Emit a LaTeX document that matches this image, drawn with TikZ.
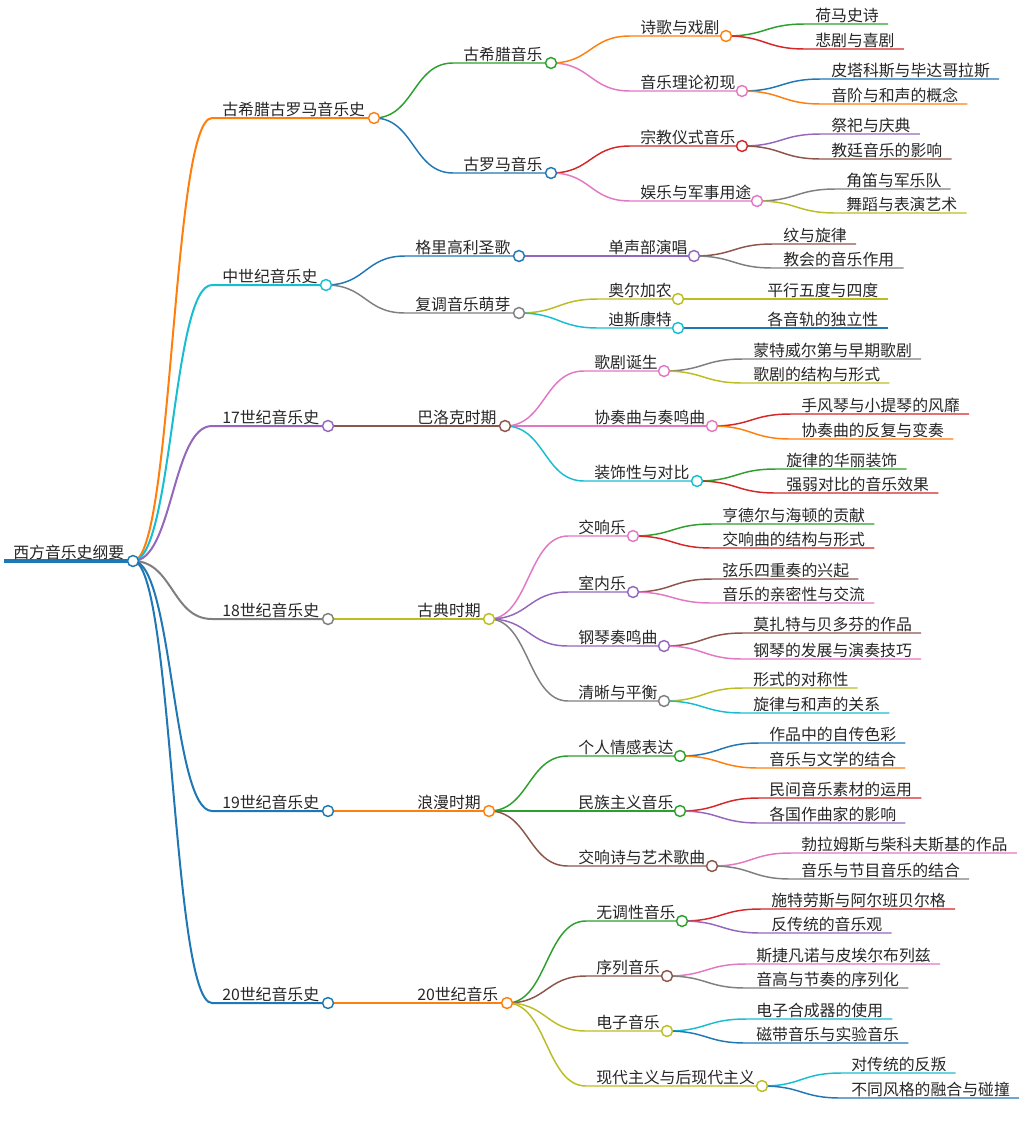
\documentclass[tikz,border=0pt]{standalone}
\usepackage{fontspec}
\newfontfamily\cjk{Noto Sans CJK SC}
\usepackage{tikz}
\usetikzlibrary{backgrounds}
\definecolor{mblue}{HTML}{1F77B4}
\definecolor{morange}{HTML}{FF7F0E}
\definecolor{mgreen}{HTML}{2CA02C}
\definecolor{mred}{HTML}{D62728}
\definecolor{mpurple}{HTML}{9467BD}
\definecolor{mbrown}{HTML}{8C564B}
\definecolor{mpink}{HTML}{E377C2}
\definecolor{mgray}{HTML}{7F7F7F}
\definecolor{molive}{HTML}{BCBD22}
\definecolor{mcyan}{HTML}{17BECF}

\begin{document}
\begin{tikzpicture}[x=0.75pt,y=-0.75pt,
   lbl/.style={anchor=base west,inner sep=0pt,text=black!85,font=\cjk\fontsize{11.9pt}{14pt}\selectfont},
   dot/.style={circle,draw=#1,fill=white,line width=1.1pt,minimum size=8.2pt,inner sep=0pt},
   br/.style={draw=#1,line width=1.1pt},
   link/.style={to path={.. controls +(40,0) and +(-40,0) .. (\tikztotarget)}}]
   \useasboundingbox (0,0) rectangle (1027,1132);

   \path (4,561) coordinate (s-root) +(9,-3) node[lbl] (root) {西方音乐史纲要} (133,561) node[dot=mblue] (d-root) {};

   \path (212,118) coordinate (s-gxl) +(10,-3) node[lbl] (gxl) {古希腊古罗马音乐史} (374,118) node[dot=morange] (d-gxl) {};
   \path (212,285) coordinate (s-zsj) +(10,-3) node[lbl] (zsj) {中世纪音乐史} (326,285) node[dot=mcyan] (d-zsj) {};
   \path (212,426) coordinate (s-s17) +(10,-3) node[lbl] (s17) {17世纪音乐史} (328,426) node[dot=mpurple] (d-s17) {};
   \path (212,619) coordinate (s-s18) +(10,-3) node[lbl] (s18) {18世纪音乐史} (328,619) node[dot=mgray] (d-s18) {};
   \path (212,811) coordinate (s-s19) +(10,-3) node[lbl] (s19) {19世纪音乐史} (328,811) node[dot=mblue] (d-s19) {};
   \path (212,1003) coordinate (s-s20) +(10,-3) node[lbl] (s20) {20世纪音乐史} (328,1003) node[dot=mblue] (d-s20) {};

   \path (453,63) coordinate (s-xila) +(10,-3) node[lbl] (xila) {古希腊音乐} (551,63) node[dot=mgreen] (d-xila) {};
   \path (453,173) coordinate (s-luoma) +(10,-3) node[lbl] (luoma) {古罗马音乐} (551,173) node[dot=mblue] (d-luoma) {};
   \path (405,256) coordinate (s-gl) +(10,-3) node[lbl] (gl) {格里高利圣歌} (519,256) node[dot=mblue] (d-gl) {};
   \path (405,313) coordinate (s-fd) +(10,-3) node[lbl] (fd) {复调音乐萌芽} (519,313) node[dot=mgray] (d-fd) {};
   \path (407,426) coordinate (s-bl) +(10,-3) node[lbl] (bl) {巴洛克时期} (505,426) node[dot=mbrown] (d-bl) {};
   \path (407,619) coordinate (s-gd) +(10,-3) node[lbl] (gd) {古典时期} (489,619) node[dot=molive] (d-gd) {};
   \path (407,811) coordinate (s-lm) +(10,-3) node[lbl] (lm) {浪漫时期} (489,811) node[dot=morange] (d-lm) {};
   \path (407,1003) coordinate (s-yy) +(10,-3) node[lbl] (yy) {20世纪音乐} (507,1003) node[dot=morange] (d-yy) {};

   \path (630,36) coordinate (s-shige) +(10,-3) node[lbl] (shige) {诗歌与戏剧} (726,36) node[dot=morange] (d-shige) {};
   \path (630,91) coordinate (s-lilun) +(10,-3) node[lbl] (lilun) {音乐理论初现} (742,91) node[dot=mpink] (d-lilun) {};
   \path (630,146) coordinate (s-zongjiao) +(10,-3) node[lbl] (zongjiao) {宗教仪式音乐} (742,146) node[dot=mred] (d-zongjiao) {};
   \path (630,201) coordinate (s-yule) +(10,-3) node[lbl] (yule) {娱乐与军事用途} (757,201) node[dot=mpink] (d-yule) {};
   \path (598,256) coordinate (s-dansheng) +(10,-3) node[lbl] (dansheng) {单声部演唱} (694,256) node[dot=mpurple] (d-dansheng) {};
   \path (598,299) coordinate (s-aer) +(10,-3) node[lbl] (aer) {奥尔加农} (678,299) node[dot=molive] (d-aer) {};
   \path (598,328) coordinate (s-disi) +(10,-3) node[lbl] (disi) {迪斯康特} (678,328) node[dot=mcyan] (d-disi) {};
   \path (584,371) coordinate (s-geju) +(10,-3) node[lbl] (geju) {歌剧诞生} (664,371) node[dot=mpink] (d-geju) {};
   \path (584,426) coordinate (s-xiezou) +(10,-3) node[lbl] (xiezou) {协奏曲与奏鸣曲} (712,426) node[dot=mpink] (d-xiezou) {};
   \path (584,481) coordinate (s-zhuangshi) +(10,-3) node[lbl] (zhuangshi) {装饰性与对比} (697,481) node[dot=mcyan] (d-zhuangshi) {};
   \path (568,536) coordinate (s-jiaoxiang) +(10,-3) node[lbl] (jiaoxiang) {交响乐} (633,536) node[dot=mpink] (d-jiaoxiang) {};
   \path (568,592) coordinate (s-shinei) +(10,-3) node[lbl] (shinei) {室内乐} (633,592) node[dot=mpurple] (d-shinei) {};
   \path (568,646) coordinate (s-gangqin) +(10,-3) node[lbl] (gangqin) {钢琴奏鸣曲} (664,646) node[dot=mpurple] (d-gangqin) {};
   \path (568,701) coordinate (s-qingxi) +(10,-3) node[lbl] (qingxi) {清晰与平衡} (664,701) node[dot=mgray] (d-qingxi) {};
   \path (568,756) coordinate (s-geren) +(10,-3) node[lbl] (geren) {个人情感表达} (680,756) node[dot=mgreen] (d-geren) {};
   \path (568,811) coordinate (s-minzu) +(10,-3) node[lbl] (minzu) {民族主义音乐} (680,811) node[dot=mgreen] (d-minzu) {};
   \path (568,866) coordinate (s-yishu) +(10,-3) node[lbl] (yishu) {交响诗与艺术歌曲} (712,866) node[dot=mbrown] (d-yishu) {};
   \path (586,921) coordinate (s-wudiao) +(10,-3) node[lbl] (wudiao) {无调性音乐} (682,921) node[dot=mgreen] (d-wudiao) {};
   \path (586,976) coordinate (s-xulie) +(10,-3) node[lbl] (xulie) {序列音乐} (667,976) node[dot=mbrown] (d-xulie) {};
   \path (586,1031) coordinate (s-dianzi) +(10,-3) node[lbl] (dianzi) {电子音乐} (667,1031) node[dot=molive] (d-dianzi) {};
   \path (586,1086) coordinate (s-xiandai) +(10,-3) node[lbl] (xiandai) {现代主义与后现代主义} (762,1086) node[dot=molive] (d-xiandai) {};

   \path (805,24) coordinate (s-homa) +(10,-3) node[lbl] (homa) {荷马史诗};
   \path (805,49) coordinate (s-beiju) +(10,-3) node[lbl] (beiju) {悲剧与喜剧};
   \path (821,79) coordinate (s-pita) +(10,-3) node[lbl] (pita) {皮塔科斯与毕达哥拉斯};
   \path (821,104) coordinate (s-yinjie) +(10,-3) node[lbl] (yinjie) {音阶与和声的概念};
   \path (821,134) coordinate (s-jisi) +(10,-3) node[lbl] (jisi) {祭祀与庆典};
   \path (821,159) coordinate (s-jiaoting) +(10,-3) node[lbl] (jiaoting) {教廷音乐的影响};
   \path (836,189) coordinate (s-jiaodi) +(10,-3) node[lbl] (jiaodi) {角笛与军乐队};
   \path (836,213) coordinate (s-wudao) +(10,-3) node[lbl] (wudao) {舞蹈与表演艺术};
   \path (773,244) coordinate (s-wen) +(10,-3) node[lbl] (wen) {纹与旋律};
   \path (773,268) coordinate (s-jiaohui) +(10,-3) node[lbl] (jiaohui) {教会的音乐作用};
   \path (757,299) coordinate (s-pingxing) +(10,-3) node[lbl] (pingxing) {平行五度与四度};
   \path (757,328) coordinate (s-yingui) +(10,-3) node[lbl] (yingui) {各音轨的独立性};
   \path (743,359) coordinate (s-mengte) +(10,-3) node[lbl] (mengte) {蒙特威尔第与早期歌剧};
   \path (743,383) coordinate (s-jiegou) +(10,-3) node[lbl] (jiegou) {歌剧的结构与形式};
   \path (791,414) coordinate (s-shoufeng) +(10,-3) node[lbl] (shoufeng) {手风琴与小提琴的风靡};
   \path (791,439) coordinate (s-fanfu) +(10,-3) node[lbl] (fanfu) {协奏曲的反复与变奏};
   \path (776,469) coordinate (s-huali) +(10,-3) node[lbl] (huali) {旋律的华丽装饰};
   \path (776,493) coordinate (s-qiangruo) +(10,-3) node[lbl] (qiangruo) {强弱对比的音乐效果};
   \path (712,524) coordinate (s-hande) +(10,-3) node[lbl] (hande) {亨德尔与海顿的贡献};
   \path (712,548) coordinate (s-jxq) +(10,-3) node[lbl] (jxq) {交响曲的结构与形式};
   \path (712,579) coordinate (s-sichong) +(10,-3) node[lbl] (sichong) {弦乐四重奏的兴起};
   \path (712,603) coordinate (s-qinmi) +(10,-3) node[lbl] (qinmi) {音乐的亲密性与交流};
   \path (743,633) coordinate (s-moza) +(10,-3) node[lbl] (moza) {莫扎特与贝多芬的作品};
   \path (743,659) coordinate (s-fazhan) +(10,-3) node[lbl] (fazhan) {钢琴的发展与演奏技巧};
   \path (743,688) coordinate (s-duichen) +(10,-3) node[lbl] (duichen) {形式的对称性};
   \path (743,713) coordinate (s-hesheng) +(10,-3) node[lbl] (hesheng) {旋律与和声的关系};
   \path (759,743) coordinate (s-zizhuan) +(10,-3) node[lbl] (zizhuan) {作品中的自传色彩};
   \path (759,768) coordinate (s-wenxue) +(10,-3) node[lbl] (wenxue) {音乐与文学的结合};
   \path (759,798) coordinate (s-minjian) +(10,-3) node[lbl] (minjian) {民间音乐素材的运用};
   \path (759,823) coordinate (s-geguo) +(10,-3) node[lbl] (geguo) {各国作曲家的影响};
   \path (791,853) coordinate (s-bolamu) +(10,-3) node[lbl] (bolamu) {勃拉姆斯与柴科夫斯基的作品};
   \path (791,879) coordinate (s-jiemu) +(10,-3) node[lbl] (jiemu) {音乐与节目音乐的结合};
   \path (761,909) coordinate (s-shite) +(10,-3) node[lbl] (shite) {施特劳斯与阿尔班贝尔格};
   \path (761,933) coordinate (s-fanct) +(10,-3) node[lbl] (fanct) {反传统的音乐观};
   \path (746,964) coordinate (s-sijie) +(10,-3) node[lbl] (sijie) {斯捷凡诺与皮埃尔布列兹};
   \path (746,988) coordinate (s-yingao) +(10,-3) node[lbl] (yingao) {音高与节奏的序列化};
   \path (746,1019) coordinate (s-hecheng) +(10,-3) node[lbl] (hecheng) {电子合成器的使用};
   \path (746,1043) coordinate (s-cidai) +(10,-3) node[lbl] (cidai) {磁带音乐与实验音乐};
   \path (841,1073) coordinate (s-panni) +(10,-3) node[lbl] (panni) {对传统的反叛};
   \path (841,1098) coordinate (s-ronghe) +(10,-3) node[lbl] (ronghe) {不同风格的融合与碰撞};

   \begin{pgfonlayer}{background}
     \draw[br=mblue,line width=3pt] (s-root) -- (d-root.center);
     \draw[br=morange,line width=1.5pt] (d-root.center) to[link] (s-gxl) -- (d-gxl.center);
     \draw[br=mcyan,line width=1.5pt] (d-root.center) to[link] (s-zsj) -- (d-zsj.center);
     \draw[br=mpurple,line width=1.5pt] (d-root.center) to[link] (s-s17) -- (d-s17.center);
     \draw[br=mgray,line width=1.5pt] (d-root.center) to[link] (s-s18) -- (d-s18.center);
     \draw[br=mblue,line width=1.5pt] (d-root.center) to[link] (s-s19) -- (d-s19.center);
     \draw[br=mblue,line width=1.5pt] (d-root.center) to[link] (s-s20) -- (d-s20.center);

     \draw[br=mgreen] (d-gxl.center) to[link] (s-xila) -- (d-xila.center);
     \draw[br=mblue] (d-gxl.center) to[link] (s-luoma) -- (d-luoma.center);
     \draw[br=mblue] (d-zsj.center) to[link] (s-gl) -- (d-gl.center);
     \draw[br=mgray] (d-zsj.center) to[link] (s-fd) -- (d-fd.center);
     \draw[br=mbrown] (d-s17.center) to[link] (s-bl) -- (d-bl.center);
     \draw[br=molive] (d-s18.center) to[link] (s-gd) -- (d-gd.center);
     \draw[br=morange] (d-s19.center) to[link] (s-lm) -- (d-lm.center);
     \draw[br=morange] (d-s20.center) to[link] (s-yy) -- (d-yy.center);

     \draw[br=morange] (d-xila.center) to[link] (s-shige) -- (d-shige.center);
     \draw[br=mpink] (d-xila.center) to[link] (s-lilun) -- (d-lilun.center);
     \draw[br=mred] (d-luoma.center) to[link] (s-zongjiao) -- (d-zongjiao.center);
     \draw[br=mpink] (d-luoma.center) to[link] (s-yule) -- (d-yule.center);
     \draw[br=mpurple] (d-gl.center) to[link] (s-dansheng) -- (d-dansheng.center);
     \draw[br=molive] (d-fd.center) to[link] (s-aer) -- (d-aer.center);
     \draw[br=mcyan] (d-fd.center) to[link] (s-disi) -- (d-disi.center);
     \draw[br=mpink] (d-bl.center) to[link] (s-geju) -- (d-geju.center);
     \draw[br=mpink] (d-bl.center) to[link] (s-xiezou) -- (d-xiezou.center);
     \draw[br=mcyan] (d-bl.center) to[link] (s-zhuangshi) -- (d-zhuangshi.center);
     \draw[br=mpink] (d-gd.center) to[link] (s-jiaoxiang) -- (d-jiaoxiang.center);
     \draw[br=mpurple] (d-gd.center) to[link] (s-shinei) -- (d-shinei.center);
     \draw[br=mpurple] (d-gd.center) to[link] (s-gangqin) -- (d-gangqin.center);
     \draw[br=mgray] (d-gd.center) to[link] (s-qingxi) -- (d-qingxi.center);
     \draw[br=mgreen] (d-lm.center) to[link] (s-geren) -- (d-geren.center);
     \draw[br=mgreen] (d-lm.center) to[link] (s-minzu) -- (d-minzu.center);
     \draw[br=mbrown] (d-lm.center) to[link] (s-yishu) -- (d-yishu.center);
     \draw[br=mgreen] (d-yy.center) to[link] (s-wudiao) -- (d-wudiao.center);
     \draw[br=mbrown] (d-yy.center) to[link] (s-xulie) -- (d-xulie.center);
     \draw[br=molive] (d-yy.center) to[link] (s-dianzi) -- (d-dianzi.center);
     \draw[br=molive] (d-yy.center) to[link] (s-xiandai) -- (d-xiandai.center);

     \draw[br=mgreen] (d-shige.center) to[link] (s-homa) -- (s-homa -| homa.east) -- ++(9,0);
     \draw[br=mred] (d-shige.center) to[link] (s-beiju) -- (s-beiju -| beiju.east) -- ++(9,0);
     \draw[br=mblue] (d-lilun.center) to[link] (s-pita) -- (s-pita -| pita.east) -- ++(9,0);
     \draw[br=morange] (d-lilun.center) to[link] (s-yinjie) -- (s-yinjie -| yinjie.east) -- ++(9,0);
     \draw[br=mpurple] (d-zongjiao.center) to[link] (s-jisi) -- (s-jisi -| jisi.east) -- ++(9,0);
     \draw[br=mbrown] (d-zongjiao.center) to[link] (s-jiaoting) -- (s-jiaoting -| jiaoting.east) -- ++(9,0);
     \draw[br=mgray] (d-yule.center) to[link] (s-jiaodi) -- (s-jiaodi -| jiaodi.east) -- ++(9,0);
     \draw[br=molive] (d-yule.center) to[link] (s-wudao) -- (s-wudao -| wudao.east) -- ++(9,0);
     \draw[br=mbrown] (d-dansheng.center) to[link] (s-wen) -- (s-wen -| wen.east) -- ++(9,0);
     \draw[br=mgray] (d-dansheng.center) to[link] (s-jiaohui) -- (s-jiaohui -| jiaohui.east) -- ++(9,0);
     \draw[br=molive] (d-aer.center) to[link] (s-pingxing) -- (s-pingxing -| pingxing.east) -- ++(9,0);
     \draw[br=mblue] (d-disi.center) to[link] (s-yingui) -- (s-yingui -| yingui.east) -- ++(9,0);
     \draw[br=mgray] (d-geju.center) to[link] (s-mengte) -- (s-mengte -| mengte.east) -- ++(9,0);
     \draw[br=molive] (d-geju.center) to[link] (s-jiegou) -- (s-jiegou -| jiegou.east) -- ++(9,0);
     \draw[br=mred] (d-xiezou.center) to[link] (s-shoufeng) -- (s-shoufeng -| shoufeng.east) -- ++(9,0);
     \draw[br=morange] (d-xiezou.center) to[link] (s-fanfu) -- (s-fanfu -| fanfu.east) -- ++(9,0);
     \draw[br=mgreen] (d-zhuangshi.center) to[link] (s-huali) -- (s-huali -| huali.east) -- ++(9,0);
     \draw[br=mred] (d-zhuangshi.center) to[link] (s-qiangruo) -- (s-qiangruo -| qiangruo.east) -- ++(9,0);
     \draw[br=mgreen] (d-jiaoxiang.center) to[link] (s-hande) -- (s-hande -| hande.east) -- ++(9,0);
     \draw[br=mred] (d-jiaoxiang.center) to[link] (s-jxq) -- (s-jxq -| jxq.east) -- ++(9,0);
     \draw[br=mbrown] (d-shinei.center) to[link] (s-sichong) -- (s-sichong -| sichong.east) -- ++(9,0);
     \draw[br=mpink] (d-shinei.center) to[link] (s-qinmi) -- (s-qinmi -| qinmi.east) -- ++(9,0);
     \draw[br=mbrown] (d-gangqin.center) to[link] (s-moza) -- (s-moza -| moza.east) -- ++(9,0);
     \draw[br=mpink] (d-gangqin.center) to[link] (s-fazhan) -- (s-fazhan -| fazhan.east) -- ++(9,0);
     \draw[br=molive] (d-qingxi.center) to[link] (s-duichen) -- (s-duichen -| duichen.east) -- ++(9,0);
     \draw[br=mcyan] (d-qingxi.center) to[link] (s-hesheng) -- (s-hesheng -| hesheng.east) -- ++(9,0);
     \draw[br=mblue] (d-geren.center) to[link] (s-zizhuan) -- (s-zizhuan -| zizhuan.east) -- ++(9,0);
     \draw[br=morange] (d-geren.center) to[link] (s-wenxue) -- (s-wenxue -| wenxue.east) -- ++(9,0);
     \draw[br=mred] (d-minzu.center) to[link] (s-minjian) -- (s-minjian -| minjian.east) -- ++(9,0);
     \draw[br=mpurple] (d-minzu.center) to[link] (s-geguo) -- (s-geguo -| geguo.east) -- ++(9,0);
     \draw[br=mpink] (d-yishu.center) to[link] (s-bolamu) -- (s-bolamu -| bolamu.east) -- ++(9,0);
     \draw[br=mgray] (d-yishu.center) to[link] (s-jiemu) -- (s-jiemu -| jiemu.east) -- ++(9,0);
     \draw[br=mred] (d-wudiao.center) to[link] (s-shite) -- (s-shite -| shite.east) -- ++(9,0);
     \draw[br=mpurple] (d-wudiao.center) to[link] (s-fanct) -- (s-fanct -| fanct.east) -- ++(9,0);
     \draw[br=mpink] (d-xulie.center) to[link] (s-sijie) -- (s-sijie -| sijie.east) -- ++(9,0);
     \draw[br=mgray] (d-xulie.center) to[link] (s-yingao) -- (s-yingao -| yingao.east) -- ++(9,0);
     \draw[br=mcyan] (d-dianzi.center) to[link] (s-hecheng) -- (s-hecheng -| hecheng.east) -- ++(9,0);
     \draw[br=mblue] (d-dianzi.center) to[link] (s-cidai) -- (s-cidai -| cidai.east) -- ++(9,0);
     \draw[br=mcyan] (d-xiandai.center) to[link] (s-panni) -- (s-panni -| panni.east) -- ++(9,0);
     \draw[br=mblue] (d-xiandai.center) to[link] (s-ronghe) -- (s-ronghe -| ronghe.east) -- ++(9,0);
   \end{pgfonlayer}
\end{tikzpicture}
\end{document}
